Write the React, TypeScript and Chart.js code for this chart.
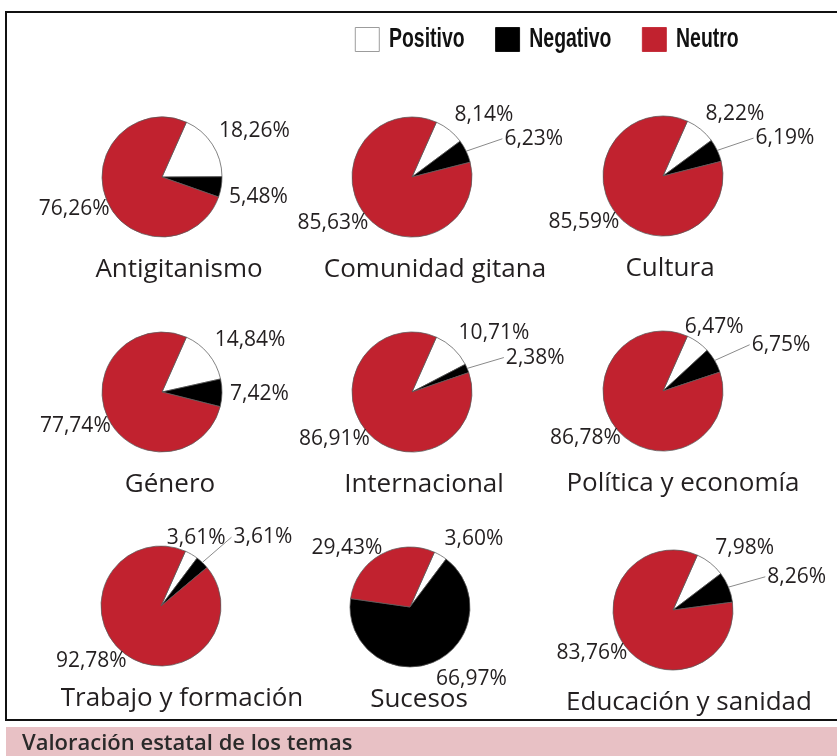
import React, { useEffect, useRef } from 'react';
import { Chart, registerables } from 'chart.js';

Chart.register(...registerables);

// ---------- data ----------
const seriesNames = ['Positivo', 'Negativo', 'Neutro'];
const seriesColors = ['#FFFFFF', '#000000', '#C1222F'];
const topics = [
  'Antigitanismo',
  'Comunidad gitana',
  'Cultura',
  'Género',
  'Internacional',
  'Política y economía',
  'Trabajo y formación',
  'Sucesos',
  'Educación y sanidad',
];
const positivo = [18.26, 8.14, 8.22, 14.84, 10.71, 6.47, 3.61, 3.6, 7.98];
const negativo = [5.48, 6.23, 6.19, 7.42, 2.38, 6.75, 3.61, 66.97, 8.26];
const neutro = [76.26, 85.63, 85.59, 77.74, 86.91, 86.78, 92.78, 29.43, 83.76];
const caption = 'Valoración estatal de los temas';

// ---------- layout (not data) ----------
const PIE_POS = [
  [162, 177], [412, 177], [663, 176],
  [162, 392], [412, 392], [663, 391],
  [161, 606], [410, 607], [673, 610],
];
const TITLE_DX = [17, 23, 7, 8, 12, 20, 21, 9, 16];
const LABEL_GAP = [8, 8, -3]; // distance from rim to nearest label corner, per series
const CANVAS_W = 300;
const CANVAS_H = 215;
const ORIGIN_X = 130;
const ORIGIN_Y = 95;
const RADIUS = 60;
const LEGEND_SQUEEZE = 0.72;

const TEXT_COLOR = '#231F20';
const LABEL_FONT = '21px "Open Sans", "Noto Sans", sans-serif';
const TITLE_FONT = '26px "Open Sans", "Noto Sans", sans-serif';

const fmt = (v: number) => v.toFixed(2).replace('.', ',') + '%';
const clamp = (v: number) => Math.max(-1, Math.min(1, v));

type Box = { l: number; r: number; t: number; b: number; text: string };

const overlaps = (a: Box, b: Box, pad: number) =>
  a.l < b.r + pad && a.r > b.l - pad && a.t < b.b + pad && a.b > b.t - pad;

const pieLabelsPlugin = {
  id: 'pieLabels',
  afterDatasetsDraw(chart: any, _args: any, opts: any) {
    const ctx = chart.ctx as CanvasRenderingContext2D;
    const meta = chart.getDatasetMeta(0);
    const values = chart.data.datasets[0].data as number[];
    ctx.save();
    ctx.font = LABEL_FONT;
    const placed: Box[] = [];
    const leaders: number[][] = [];
    let cx0 = 0;
    let cy0 = 0;
    meta.data.forEach((arc: any, i: number) => {
      const p = arc.getProps(['x', 'y', 'startAngle', 'endAngle', 'outerRadius'], true);
      cx0 = p.x;
      cy0 = p.y;
      const mid = (p.startAngle + p.endAngle) / 2;
      const ux = Math.cos(mid);
      const uy = Math.sin(mid);
      const text = fmt(values[i]);
      const w = ctx.measureText(text).width;
      const h = 18;
      const D = p.outerRadius + LABEL_GAP[i];
      const px0 = p.x + D * ux;
      const py0 = p.y + D * uy;
      const mk = (cx: number, cy: number): Box => ({ l: cx - w / 2, r: cx + w / 2, t: cy - h / 2, b: cy + h / 2, text });
      let box = mk(px0 + (clamp(3 * ux) * w) / 2, py0 + (clamp(6 * uy) * h) / 2);
      const hit = placed.some((q) => overlaps(box, q, 10));
      if (hit) {
        const a2 = mid + (3 * Math.PI) / 180;
        const R2 = p.outerRadius + 40;
        const lx = p.x + R2 * Math.cos(a2);
        const ly = p.y + R2 * Math.sin(a2);
        box = mk(ux >= 0 ? lx + w / 2 : lx - w / 2, ly);
        // make room: slide earlier colliding labels away
        placed.forEach((q) => {
          if (overlaps(box, q, 2)) {
            const shift = q.r + 2 - box.l + 6;
            q.l -= shift;
            q.r -= shift;
          }
        });
        leaders.push([p.x + p.outerRadius * ux, p.y + p.outerRadius * uy, ux >= 0 ? box.l - 2 : box.r + 2, ly]);
      }
      placed.push(box);
    });
    ctx.strokeStyle = '#8a8a8a';
    ctx.lineWidth = 1;
    leaders.forEach(([x1, y1, x2, y2]) => {
      ctx.beginPath();
      ctx.moveTo(x1, y1);
      ctx.lineTo(x2, y2);
      ctx.stroke();
    });
    ctx.fillStyle = TEXT_COLOR;
    ctx.textAlign = 'center';
    ctx.textBaseline = 'middle';
    placed.forEach((b) => ctx.fillText(b.text, (b.l + b.r) / 2, (b.t + b.b) / 2));
    ctx.font = TITLE_FONT;
    ctx.textBaseline = 'alphabetic';
    ctx.fillText(opts.title, cx0 + opts.titleDx, cy0 + 100);
    ctx.restore();
  },
};

// horizontally condenses the legend (the original uses a condensed face)
const squeezePlugin = {
  id: 'squeeze',
  beforeDraw(chart: any) {
    const ctx = chart.ctx as CanvasRenderingContext2D;
    const cx = chart.width / 2;
    ctx.save();
    ctx.translate(cx, 0);
    ctx.scale(LEGEND_SQUEEZE, 1);
    ctx.translate(-cx, 0);
  },
  afterDraw(chart: any) {
    chart.ctx.restore();
  },
};

function PieChart({ index }: { index: number }) {
  const ref = useRef<HTMLCanvasElement | null>(null);
  useEffect(() => {
    if (!ref.current) return;
    const chart = new Chart(ref.current, {
      type: 'pie',
      data: {
        labels: seriesNames,
        datasets: [
          {
            data: [positivo[index], negativo[index], neutro[index]],
            backgroundColor: seriesColors,
            borderColor: '#5a5a5a',
            borderWidth: 0.75,
          },
        ],
      },
      options: {
        responsive: false,
        animation: false,
        devicePixelRatio: 1,
        events: [],
        rotation: 24,
        radius: RADIUS,
        layout: {
          padding: {
            left: 0,
            top: 0,
            right: CANVAS_W - 2 * ORIGIN_X,
            bottom: CANVAS_H - 2 * ORIGIN_Y,
          },
        },
        plugins: {
          legend: { display: false },
          tooltip: { enabled: false },
          pieLabels: { title: topics[index], titleDx: TITLE_DX[index] },
        },
      } as any,
      plugins: [pieLabelsPlugin as any],
    });
    return () => chart.destroy();
  }, [index]);
  const [cx, cy] = PIE_POS[index];
  return (
    <canvas
      ref={ref}
      width={CANVAS_W}
      height={CANVAS_H}
      style={{ position: 'absolute', left: cx - ORIGIN_X, top: cy - ORIGIN_Y, width: CANVAS_W, height: CANVAS_H }}
    />
  );
}

function LegendChart() {
  const ref = useRef<HTMLCanvasElement | null>(null);
  useEffect(() => {
    if (!ref.current) return;
    const chart = new Chart(ref.current, {
      type: 'pie',
      data: {
        labels: seriesNames,
        datasets: [{ data: [1, 1, 1], backgroundColor: seriesColors, borderWidth: 0 }],
      },
      options: {
        responsive: false,
        animation: false,
        devicePixelRatio: 1,
        events: [],
        radius: 0,
        plugins: {
          tooltip: { enabled: false },
          legend: {
            position: 'top',
            labels: {
              boxWidth: 24 / LEGEND_SQUEEZE,
              boxHeight: 24,
              padding: 43,
              color: '#111111',
              font: { family: '"Liberation Sans", Arial, sans-serif', size: 27, weight: 'bold' },
              generateLabels: () =>
                seriesNames.map((n, i) => ({
                  text: n,
                  fillStyle: seriesColors[i],
                  strokeStyle: i === 0 ? '#8c8c8c' : seriesColors[i],
                  lineWidth: 1,
                  hidden: false,
                  index: i,
                  fontColor: '#111111',
                })),
            },
          },
        },
      } as any,
      plugins: [squeezePlugin as any],
    });
    return () => chart.destroy();
  }, []);
  return (
    <canvas
      ref={ref}
      width={760}
      height={180}
      style={{ position: 'absolute', left: 167, top: -17, width: 760, height: 180 }}
    />
  );
}

export default function App() {
  return (
    <div
      style={{
        position: 'absolute',
        left: 0,
        top: 0,
        width: 837,
        height: 756,
        overflow: 'hidden',
        background: '#ffffff',
      }}
    >
      <div
        style={{
          position: 'absolute',
          left: 5,
          top: 11,
          width: 845,
          height: 710,
          border: '2px solid #111',
          boxSizing: 'border-box',
        }}
      />
      <LegendChart />
      {topics.map((_, i) => (
        <PieChart key={i} index={i} />
      ))}
      <div
        style={{
          position: 'absolute',
          left: 6,
          top: 727,
          width: 831,
          height: 29,
          background: '#E8C1C5',
          color: '#2a2a2a',
          fontFamily: '"Open Sans", "Noto Sans", sans-serif',
          fontWeight: 600,
          fontSize: 22,
          lineHeight: '29px',
          paddingLeft: 16,
          boxSizing: 'border-box',
          whiteSpace: 'nowrap',
        }}
      >
        {caption}
      </div>
    </div>
  );
}
